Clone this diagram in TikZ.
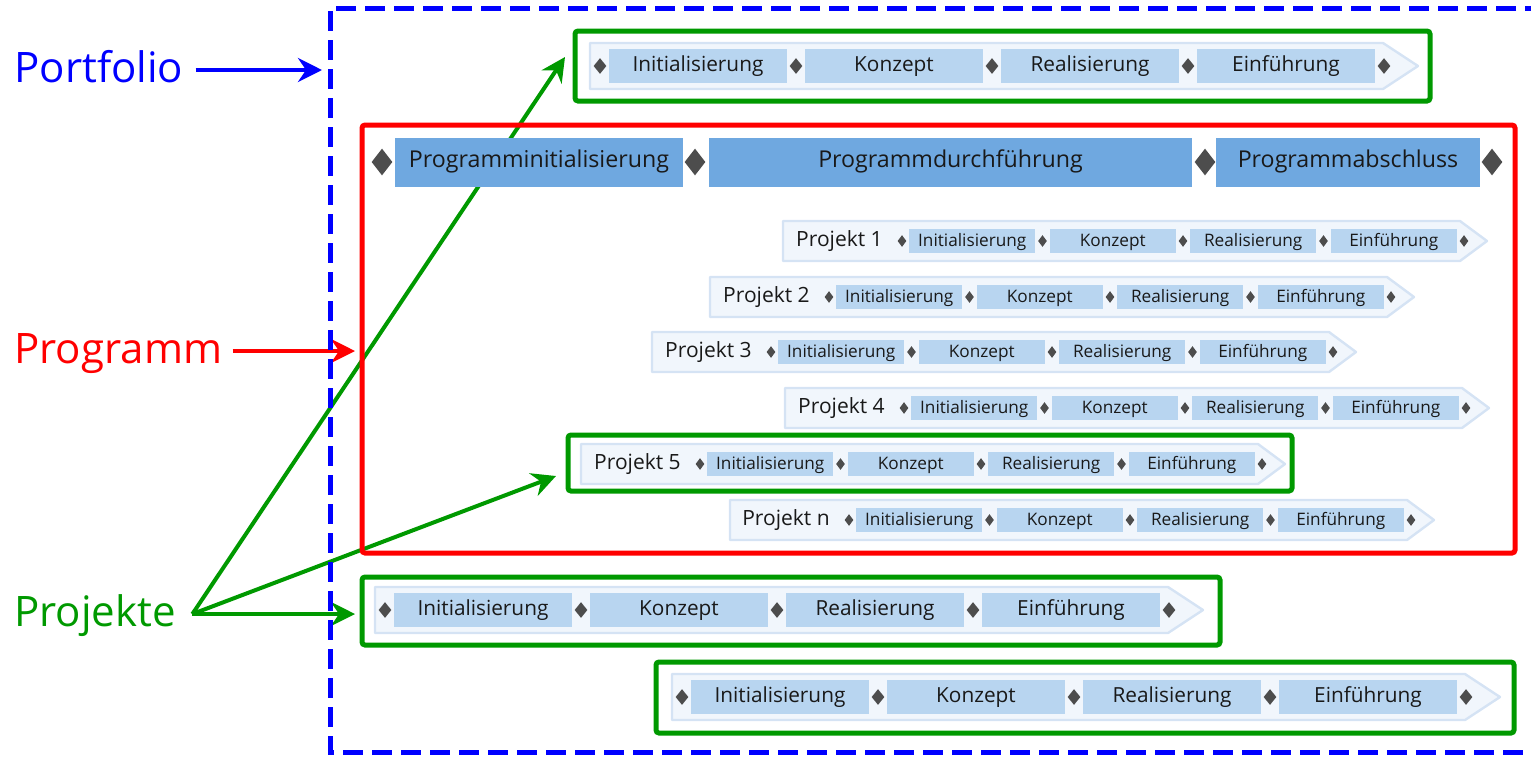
\documentclass[tikz,border=0pt]{standalone}
\usepackage{fontspec}
\setmainfont{Open Sans}
\usetikzlibrary{shapes.geometric}
\usetikzlibrary{calc}
\usetikzlibrary{positioning, arrows.meta}
\definecolor{pfblue}{RGB}{0,0,255}
\definecolor{prgred}{RGB}{255,0,0}
\definecolor{projgreen}{RGB}{0,153,0}
\definecolor{barlight}{RGB}{184,213,240}
\definecolor{barmid}{RGB}{111,168,224}
\definecolor{msgray}{RGB}{77,77,77}
\definecolor{bgfill}{RGB}{241,246,252}
\definecolor{bgline}{RGB}{213,227,244}
\definecolor{txtdark}{RGB}{25,25,25}

\begin{document}
\begin{tikzpicture}[x=0.5pt, y=-0.5pt,
    label/.style = {font=\fontsize{21}{25}\selectfont, inner sep=2pt, anchor=base west},
    ms/.style = {diamond, fill=msgray, inner sep=0pt, minimum width=6.5pt, minimum height=8pt},
    bigms/.style = {ms, minimum width=10.5pt, minimum height=13.5pt},
    smallms/.style = {ms, minimum width=4.5pt, minimum height=6pt},
    phase/.style = {fill=barlight, text=txtdark, inner sep=0pt, text height=0.74em, text depth=0.2em, minimum width=89pt, minimum height=17pt, font=\fontsize{10.4}{12}\selectfont},
    smallphase/.style = {phase, minimum width=63pt, minimum height=12pt, font=\fontsize{8.6}{10}\selectfont},
    prgphase/.style = {fill=barmid, text=txtdark, inner sep=0pt, text height=0.74em, text depth=0.2em, minimum height=24.5pt, font=\fontsize{11.6}{13}\selectfont},
    projlabel/.style = {text=txtdark, inner sep=0pt, text height=0.74em, text depth=0.2em, font=\fontsize{10.5}{12}\selectfont},
    rowbg/.style = {fill=bgfill, draw=bgline, line width=1.2pt, line join=round},
    pfframe/.style = {draw=pfblue, line width=2.5pt, dash pattern=on 10pt off 4.5pt},
    prgframe/.style = {draw=prgred, line width=2.5pt, rounded corners=1.5pt},
    projframe/.style = {draw=projgreen, line width=2.5pt, rounded corners=1.5pt},
    pointer/.style = {line width=2pt, -{Stealth[length=12pt, width=12pt, inset=4pt]}}]
    \useasboundingbox (0,0) rectangle (1531,757);

    % Frame corners
    \coordinate (pf-nw) at (330,8);
    \coordinate (pf-se) at (1545,752);
    \coordinate (prg-nw) at (362,125);
    \coordinate (prg-se) at (1515,553);
    \coordinate (gA-nw) at (575,31);
    \coordinate (gA-se) at (1430,101);
    \coordinate (g5-nw) at (568,435);
    \coordinate (g5-se) at (1292,491);
    \coordinate (gC-nw) at (362,577);
    \coordinate (gC-se) at (1220,645);
    \coordinate (gD-nw) at (656,662);
    \coordinate (gD-se) at (1514,733);

    % Labels
    \node[label, text=pfblue] (portfolio) at (10,82) {Portfolio};
    \node[label, text=prgred] (programm) at (10,363) {Programm};
    \node[label, text=projgreen] (projekte) at (10,626) {Projekte};

    % Arrows
    \draw[pointer, pfblue, shorten <=4pt, shorten >=4pt] ([yshift=6pt]portfolio.base east) -- ([yshift=6pt]portfolio.base east -| pf-nw);
    \draw[pointer, prgred, shorten <=3pt, shorten >=3.5pt] ([yshift=6pt]programm.base east) -- ([yshift=6pt]programm.base east -| prg-nw);
    \coordinate[right=6pt of projekte.base east, yshift=6pt] (fan);
    \coordinate (tipA) at ($(gA-nw)+(-10,26)$);
    \coordinate (tip5) at ($(g5-nw)+(-12,41)$);
    \draw[pointer, projgreen] (fan) -- (tipA);
    \draw[pointer, projgreen] (fan) -- (tip5);
    \draw[pointer, projgreen, shorten >=3.5pt] (fan) -- (fan -| gC-nw);

    % Programme phases
    \node[bigms] (pm0) at (382,162) {};
    \node[prgphase, minimum width=144pt] (pp0) at (539,162) {Programminitialisierung};
    \node[bigms] (pm1) at (695,162) {};
    \node[prgphase, minimum width=241.5pt] (pp1) at (950.5,162) {Programmdurchführung};
    \node[bigms] (pm2) at (1205,162) {};
    \node[prgphase, minimum width=132pt] (pp2) at (1348,162) {Programmabschluss};
    \node[bigms] (pm3) at (1492,162) {};

    % Single projects (large rows)
    \foreach \rw/\dx/\dy in {A/600/66, C/385/610, D/682/697} {
        \begin{scope}[shift={(\dx,\dy)}]
            \draw[rowbg] (-10,-23) -- (783,-23) -- (818,0) -- (783,23) -- (-10,23) -- cycle;
            \foreach \i in {0,...,4}
                \node[ms] (\rw-m\i) at (196*\i,0) {};
            \foreach \i/\t in {0/Initialisierung, 1/Konzept, 2/Realisierung, 3/Einführung}
                \node[phase] (\rw-p\i) at (98+196*\i,0) {\t};
        \end{scope}
    }

    % Projects of the programme
    \foreach \k/\dx/\dy in {1/902/241, 2/829/297, 3/771/352, 4/904/408, 5/700/464, n/849/520} {
        \begin{scope}[shift={(\dx,\dy)}]
            \draw[rowbg] (-119,-20) -- (558,-20) -- (585,0) -- (558,20) -- (-119,20) -- cycle;
            \foreach \i in {0,...,4}
                \node[smallms] (s\k-m\i) at (140.5*\i,0) {};
            \foreach \i/\t in {0/Initialisierung, 1/Konzept, 2/Realisierung, 3/Einführung}
                \node[smallphase] (s\k-p\i) at (70.25+140.5*\i,0) {\t};
            \node[projlabel, left=7pt of s\k-m0] (s\k-lbl) {Projekt \k};
        \end{scope}
    }

    % Frames
    \draw[pfframe] (pf-se |- pf-nw) -- (pf-nw) -- (pf-nw |- pf-se) -- (pf-se);
    \draw[prgframe] (prg-nw) rectangle (prg-se);
    \foreach \g in {A,5,C,D}
        \draw[projframe] (g\g-nw) rectangle (g\g-se);
\end{tikzpicture}
\end{document}
